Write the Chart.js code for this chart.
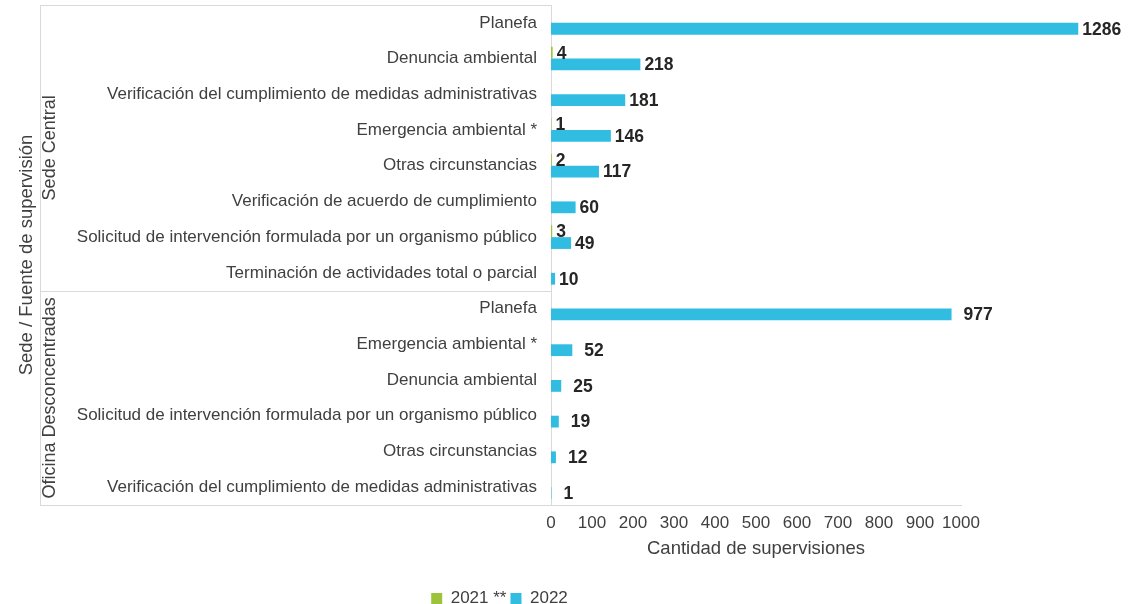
<!DOCTYPE html>
<html>
<head>
<meta charset="utf-8">
<script src="https://cdn.jsdelivr.net/npm/chart.js@4/dist/chart.umd.min.js"></script>
<style>
  html, body { margin: 0; padding: 0; background: #fff; }
  #wrap { width: 1144px; height: 604px; }
</style>
</head>
<body>
<div id="wrap"><canvas id="chart"></canvas></div>
<script>
// categories, top to bottom
const fuentes = [
  'Planefa',
  'Denuncia ambiental',
  'Verificación del cumplimiento de medidas administrativas',
  'Emergencia ambiental *',
  'Otras circunstancias',
  'Verificación de acuerdo de cumplimiento',
  'Solicitud de intervención formulada por un organismo público',
  'Terminación de actividades total o parcial',
  'Planefa',
  'Emergencia ambiental *',
  'Denuncia ambiental',
  'Solicitud de intervención formulada por un organismo público',
  'Otras circunstancias',
  'Verificación del cumplimiento de medidas administrativas'
];
const sedes = ['Sede Central', 'Oficina Desconcentradas'];
const sedeDeFuente = [0, 0, 0, 0, 0, 0, 0, 0, 1, 1, 1, 1, 1, 1];

const valores2021 = [null, 4, null, 1, 2, null, 3, null, null, null, null, null, null, null];
const valores2022 = [1286, 218, 181, 146, 117, 60, 49, 10, 977, 52, 25, 19, 12, 1];

const xTicks = [0, 100, 200, 300, 400, 500, 600, 700, 800, 900, 1000];

const VERDE = '#9DC33B';
const AZUL = '#31BDE2';
const GRIS_LINEA = '#d9d9d9';
const TEXTO = '#404040';
const FONT = "'Liberation Sans', Arial, sans-serif";

// value labels at the end of each bar
const etiquetas = {
  id: 'etiquetas',
  afterDatasetsDraw(chart) {
    const ctx = chart.ctx;
    ctx.save();
    ctx.font = 'bold 17.5px ' + FONT;
    ctx.fillStyle = '#262626';
    ctx.textAlign = 'left';
    ctx.textBaseline = 'middle';
    chart.data.datasets.forEach((ds, di) => {
      const meta = chart.getDatasetMeta(di);
      meta.data.forEach((bar, i) => {
        const v = ds.data[i];
        if (v === null || v === undefined) return;
        const gap = sedeDeFuente[i] === 0 ? 4 : 12;
        ctx.fillText(String(v), bar.x + gap, bar.y + 1);
      });
    });
    ctx.restore();
  }
};

// outer category box, group labels and the y axis title
const grupos = {
  id: 'grupos',
  afterDraw(chart) {
    const ctx = chart.ctx;
    const area = chart.chartArea;
    const y = chart.scales.y;
    const boxLeft = 40;
    const step = y.getPixelForValue(1) - y.getPixelForValue(0);

    ctx.save();
    ctx.strokeStyle = GRIS_LINEA;
    ctx.lineWidth = 1;
    ctx.beginPath();
    ctx.moveTo(boxLeft, area.top + 0.5);
    ctx.lineTo(area.left, area.top + 0.5);
    ctx.moveTo(boxLeft + 0.5, area.top);
    ctx.lineTo(boxLeft + 0.5, area.bottom);
    ctx.moveTo(boxLeft, area.bottom + 0.5);
    ctx.lineTo(area.left, area.bottom + 0.5);
    ctx.stroke();

    ctx.fillStyle = TEXTO;
    ctx.textAlign = 'center';
    ctx.textBaseline = 'middle';
    ctx.font = '18px ' + FONT;

    sedes.forEach((nombre, g) => {
      const idx = sedeDeFuente.map((s, i) => s === g ? i : -1).filter(i => i >= 0);
      const top = y.getPixelForValue(idx[0]) - step / 2;
      const bottom = y.getPixelForValue(idx[idx.length - 1]) + step / 2;
      if (g > 0) {
        ctx.beginPath();
        ctx.moveTo(boxLeft, Math.round(top) + 0.5);
        ctx.lineTo(area.left, Math.round(top) + 0.5);
        ctx.stroke();
      }
      ctx.save();
      ctx.translate(50, (top + bottom) / 2);
      ctx.rotate(-Math.PI / 2);
      ctx.fillText(nombre, 0, 0);
      ctx.restore();
    });

    ctx.font = '18.5px ' + FONT;
    ctx.save();
    ctx.translate(27, (area.top + area.bottom) / 2);
    ctx.rotate(-Math.PI / 2);
    ctx.fillText('Sede / Fuente de supervisión', 0, 0);
    ctx.restore();
    ctx.restore();
  }
};

new Chart(document.getElementById('chart'), {
  type: 'bar',
  data: {
    labels: fuentes,
    datasets: [{
      label: '2021 **',
      data: valores2021,
      backgroundColor: VERDE,
      clip: false
    }, {
      label: '2022',
      data: valores2022,
      backgroundColor: AZUL,
      clip: false
    }]
  },
  options: {
    indexAxis: 'y',
    responsive: true,
    maintainAspectRatio: false,
    animation: false,
    categoryPercentage: 0.66,
    barPercentage: 1,
    layout: { padding: { top: 5, left: 38, right: 183, bottom: -13 } },
    scales: {
      x: {
        min: 0,
        max: 1000,
        afterBuildTicks: (scale) => { scale.ticks = xTicks.map(v => ({ value: v })); },
        afterFit: (scale) => { scale.height = 81; scale.paddingLeft = 0; scale.paddingRight = 0; },
        grid: { display: false, drawTicks: false },
        border: { display: true, color: GRIS_LINEA },
        ticks: {
          color: TEXTO,
          font: { family: FONT, size: 17 },
          padding: 8,
          maxRotation: 0,
          autoSkip: false,
          callback: (v) => String(v)
        },
        title: {
          display: true,
          text: 'Cantidad de supervisiones',
          color: TEXTO,
          font: { family: FONT, size: 18.5 },
          padding: { top: 4, bottom: 26 }
        }
      },
      y: {
        afterFit: (scale) => { scale.width = 513; scale.paddingTop = 0; scale.paddingBottom = 0; },
        grid: { display: false, drawTicks: false },
        border: { display: true, color: GRIS_LINEA },
        ticks: { color: TEXTO, font: { family: FONT, size: 17 }, padding: 14, autoSkip: false }
      }
    },
    plugins: {
      legend: {
        position: 'bottom',
        labels: {
          boxWidth: 11,
          boxHeight: 11,
          padding: 4,
          color: TEXTO,
          font: { family: FONT, size: 17 }
        }
      },
      tooltip: { enabled: false }
    }
  },
  plugins: [etiquetas, grupos]
});
</script>
</body>
</html>
